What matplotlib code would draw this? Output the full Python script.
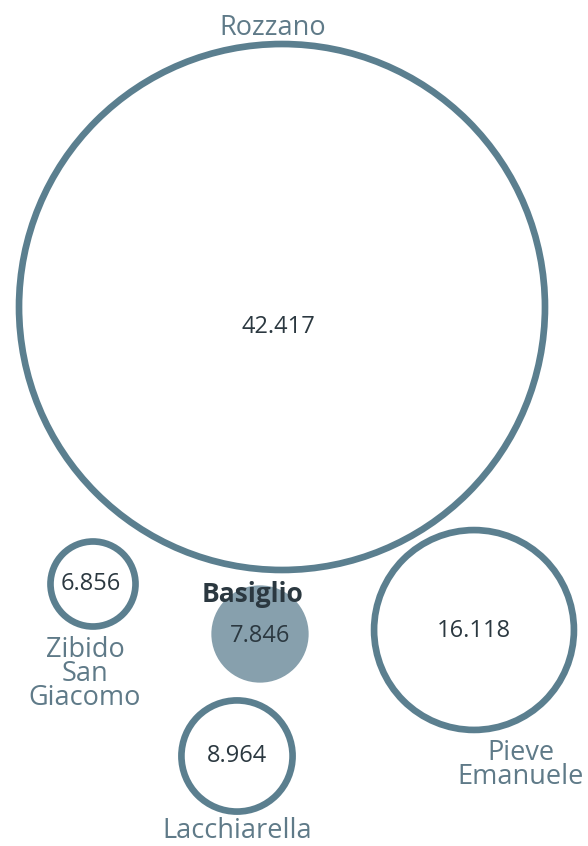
import matplotlib.pyplot as plt
from matplotlib.patches import Circle

# data
names = ["Rozzano", "Pieve\nEmanuele", "Lacchiarella", "Basiglio", "Zibido\nSan\nGiacomo"]
values = [42.417, 16.118, 8.964, 7.846, 6.856]
value_labels = ["42.417", "16.118", "8.964", "7.846", "6.856"]
highlight = "Basiglio"

# layout (pixel positions of the packed circles and their texts)
centers = [(282, 307), (474, 630), (237, 756), (260, 634), (93, 584)]
number_pos = [(278, 327), (474, 631), (237, 756), (260, 636), (91, 584)]
label_pos = [(273, 28), (521, 765), (237, 831), (253, 595), (85, 674)]

stroke = "#5b7f8f"
fill_hl = "#87a0ad"
label_col = "#5f7a88"
num_col = "#2b3840"
scale = 6.2

plt.rcParams['font.family'] = ['Open Sans', 'DejaVu Sans']

fig = plt.figure(figsize=(5.88, 8.46), dpi=100)
ax = fig.add_axes([0, 0, 1, 1])
ax.set_xlim(0, 588)
ax.set_ylim(846, 0)
ax.set_aspect('equal')
ax.axis('off')

for name, v, vl, c, npos, lp in zip(names, values, value_labels, centers, number_pos, label_pos):
    r = v * scale
    if name == highlight:
        ax.add_patch(Circle(c, r, facecolor=fill_hl, edgecolor='none'))
        ax.text(lp[0], lp[1], name, ha='center', va='center', fontsize=19,
                fontweight='bold', color=num_col)
    else:
        ax.add_patch(Circle(c, r, facecolor='white', edgecolor=stroke, linewidth=4.8))
        ax.text(lp[0], lp[1], name, ha='center', va='center', fontsize=19.5,
                color=label_col, linespacing=0.82)
    ax.text(npos[0], npos[1], vl, ha='center', va='center', fontsize=17, color=num_col)

fig.savefig('out.png', dpi=100)
